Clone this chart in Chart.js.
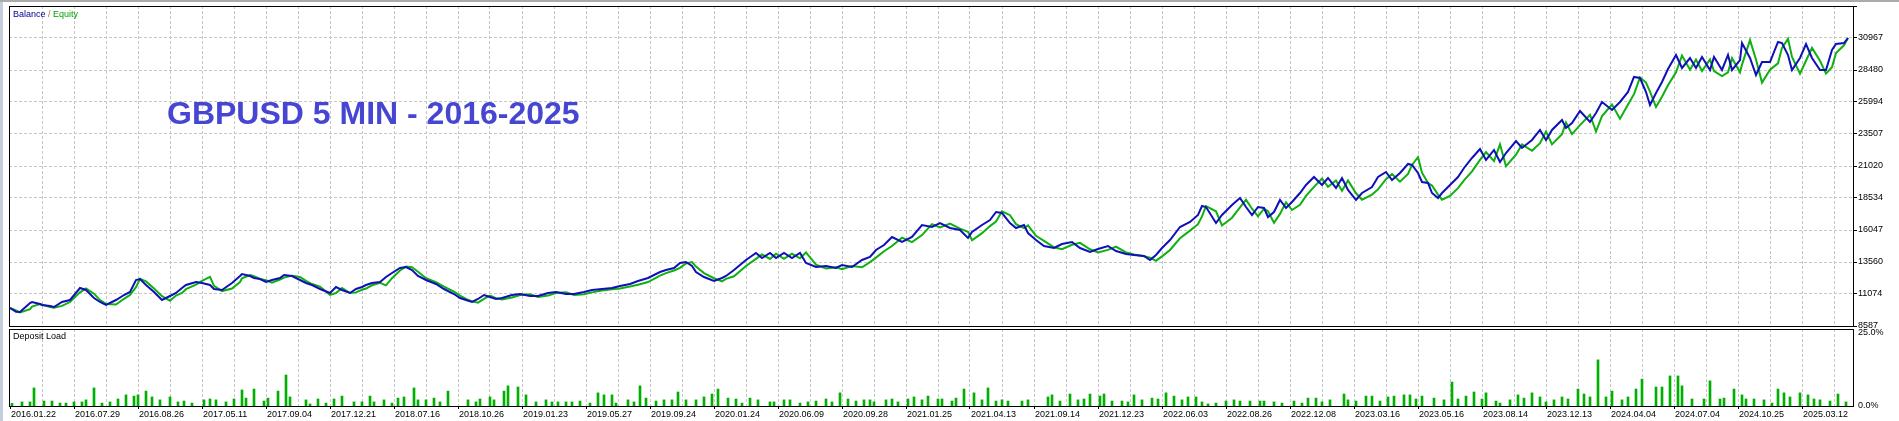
<!DOCTYPE html>
<html><head><meta charset="utf-8">
<script src="https://cdn.jsdelivr.net/npm/chart.js@4/dist/chart.umd.min.js"></script>
<style>
html,body{margin:0;padding:0;background:#fff;width:1899px;height:421px;overflow:hidden;position:relative}
#cMain{position:absolute;left:0;top:0}
#cLoad{position:absolute;left:0;top:328px;background:#fff}
#strip{position:absolute;left:0;top:0;width:3px;height:421px;background:#C3CFDD}
#topline{position:absolute;left:0;top:0;width:1899px;height:2px;background:#ABABAB}
</style></head><body>
<canvas id="cMain" width="1899" height="330"></canvas>
<canvas id="cLoad" width="1899" height="93"></canvas>
<div id="strip"></div><div id="topline"></div>
<script>
// ---------------- DATA ----------------
const dateLabels = ['2016.01.22','2016.07.29','2016.08.26','2017.05.11','2017.09.04','2017.12.21','2018.07.16','2018.10.26','2019.01.23','2019.05.27','2019.09.24','2020.01.24','2020.06.09','2020.09.28','2021.01.25','2021.04.13','2021.09.14','2021.12.23','2022.06.03','2022.08.26','2022.12.08','2023.03.16','2023.05.16','2023.08.14','2023.12.13','2024.04.04','2024.07.04','2024.10.25','2025.03.12'];
const yTickLabels = ['8587','11074','13560','16047','18534','21020','23507','25994','28480','30967'];
const loadTickLabels = ['0.0%','25.0%'];

// deal number of each balance/equity reading
const balDeals = [
0,3,5,10,11,15,16,20,22,26,
30,35,38,42,45,48,53,57,60,63,
65,68,72,76,80,83,86,88,93,96,
100,102,106,111,115,116,120,122,125,128,
131,135,137,141,145,148,151,155,160,163,
166,170,173,176,178,181,185,188,191,195,
198,201,204,208,213,217,222,225,228,231,
234,237,240,243,246,251,255,260,264,269,
273,278,282,287,291,296,301,305,310,314,
319,322,325,328,332,335,338,341,343,347,
352,356,358,362,368,373,376,380,383,387,
391,395,398,403,408,413,416,421,426,430,
433,437,441,446,451,456,461,465,470,475,
479,481,486,490,493,496,500,503,507,509,
513,517,522,526,531,535,540,544,549,553,
558,562,567,570,573,576,580,585,590,594,
596,598,603,606,611,615,618,621,624,627,
629,632,635,638,641,645,648,652,656,659,
663,666,669,673,676,681,684,688,691,695,
699,701,704,706,709,711,714,716,720,724,
727,731,735,738,742,745,748,753,756,761,
765,768,771,776,778,781,785,790,793,796,
801,805,809,812,815,818,820,823,826,829,
833,836,840,843,846,850,852,856,859,861,
865,866,870,873,876,880,884,886,889,891,
895,898,901,905,908,911,913,917,919];

const balance = [
9986,9700,9675,10374,10452,10296,10219,10141,10063,10452,
10607,11540,11385,10763,10452,10219,10607,10996,11229,12162,
12239,11773,11229,10607,10918,11151,11540,11773,12006,11928,
11773,11462,11385,11928,12472,12628,12472,12317,12239,12006,
12162,12317,12550,12472,12162,11928,11773,11462,11151,11618,
11385,11151,11462,11618,11773,11928,12006,12395,12705,13094,
13172,12938,12472,12162,11851,11462,11073,10763,10607,10452,
10685,10996,10840,10685,10763,10996,11073,10918,10918,11151,
11229,11073,11073,11229,11385,11462,11540,11695,11851,12084,
12317,12550,12783,12938,13094,13482,13560,13249,12783,12395,
12084,12317,12472,12938,13715,14259,13871,14259,13871,14259,
13871,14259,13482,13172,13249,13094,13327,13172,13715,13948,
14492,14881,15502,15114,15502,16434,16279,16590,16201,16046,
15424,15891,16434,16823,17445,17367,16590,16201,16434,15813,
15269,14803,14648,14958,15114,14648,14337,14570,14803,14414,
14181,14104,14026,13715,14104,14648,15269,16279,16668,17212,
17911,17834,16590,17212,17989,18533,17834,17212,17834,17756,
17056,17445,18378,17756,18222,18922,19544,20166,19544,20089,
19311,20089,19156,18378,18922,19389,20166,20555,19933,20477,
21177,21099,20477,19778,19700,18922,18533,18922,19544,20166,
20865,21643,22342,21487,22265,21332,22031,22964,22420,23042,
23819,23042,23819,24596,23974,24363,25296,24441,25140,25995,
25374,25995,26772,27938,27860,26772,25762,26695,27549,28558,
29646,28636,29412,28636,29490,28481,29490,28481,29646,28481,
29257,30578,29412,28092,29102,29102,30656,30578,29646,28481,
29412,30501,29412,28481,28481,30034,30501,30578,30967];

const equity = [
9990,9800,9640,9900,10100,10290,10250,10060,10000,10150,
10450,11200,11500,11100,10600,10300,10250,10700,11000,11600,
12250,12050,11500,10900,10550,10950,11150,11450,11800,12100,
12400,11700,11300,11500,12000,12300,12550,12450,12250,12150,
11950,12200,12350,12500,12400,12100,11850,11650,11000,11150,
11550,11150,11200,11400,11500,11750,11950,11750,12300,12900,
13200,13150,12800,12300,12000,11650,11250,10950,10700,10500,
10400,10700,10950,10750,10650,10800,11000,11050,10850,10950,
11150,11200,11000,11050,11200,11350,11450,11500,11650,11800,
12000,12250,12500,12700,12900,13100,13450,13550,13200,12700,
12300,12050,12250,12450,13250,13800,14150,13800,14200,13800,
14200,13850,14300,13350,13050,13150,13000,13250,13150,13550,
13900,14400,14800,15450,15100,15650,16500,16250,16550,16150,
15900,15250,15800,16350,16700,17500,17200,16500,16200,16400,
15600,15200,14700,14550,14900,15050,14550,14300,14500,14750,
14300,14150,14000,13900,13650,14000,14500,15400,16000,16500,
17100,17900,17500,16400,17000,17800,18400,17700,17100,17700,
17500,16600,17300,18200,17600,18000,18700,19400,20050,19400,
19900,19100,19900,18900,18400,18800,19200,20000,20400,19800,
20400,21100,21700,20500,19700,19500,18800,18400,18700,19300,
19900,20600,21500,22100,21400,22700,21000,21900,22700,22200,
22800,23700,22700,23500,24400,23500,24200,25000,23700,24900,
25800,24700,25800,26600,27900,27500,26800,25600,26400,27300,
28300,29600,28500,29300,28400,29300,28400,28000,28300,29400,
28300,28900,30800,29300,27500,28500,29000,30200,30900,29500,
28200,29200,30200,29200,28200,28700,29800,30400,30967];

// deposit load bars (deal number, percent)
const loadDeals = [
1,6,10,12,17,21,25,28,32,36,38,42,46,50,54,58,62,64,68,71,
75,80,84,87,91,97,100,103,108,112,116,118,122,127,129,134,138,140,148,150,
154,158,162,166,172,176,180,182,187,191,194,197,202,204,208,212,215,219,229,233,
235,240,242,
247,249,254,258,263,268,271,274,278,281,285,290,294,297,301,303,309,312,315,318,
323,327,331,334,338,343,347,351,354,359,363,366,370,374,380,382,387,390,395,399,
403,408,411,415,419,423,427,430,432,438,441,444,449,452,456,459,464,466,471,473,
477,482,486,489,493,496,499,506,509,519,521,525,530,534,537,540,545,547,551,556,
559,562,566,
571,574,578,582,586,589,593,596,599,603,608,612,615,620,625,627,632,636,642,646,
649,653,656,660,667,669,673,678,681,685,689,692,697,700,703,706,712,717,721,724,
728,732,736,738,743,745,750,754,757,761,765,768,772,776,779,784,787,790,794,798,
801,806,809,813,816,823,826,830,834,836,841,
847,850,855,857,862,866,868,872,877,881,884,887,890,895,899,902,905,910,914,918];

const loadPct = [
0.9,1.4,1.4,6.2,1.7,1.7,1.0,1.0,1.4,1.4,2.1,6.2,1.0,1.4,2.4,3.8,3.4,3.8,5.1,3.1,
2.1,3.1,1.4,1.7,1.0,2.1,2.4,2.1,1.4,2.4,5.5,2.7,5.8,1.7,2.7,5.1,10.6,3.1,2.1,0.7,
2.4,1.0,2.4,3.4,1.4,1.4,3.4,1.4,2.1,1.0,2.7,3.1,6.2,2.1,2.1,2.7,1.4,5.1,2.1,1.4,
2.4,3.1,2.1,
5.1,6.9,6.5,3.8,1.4,2.1,1.4,1.4,1.4,1.4,1.7,1.0,4.5,3.8,3.8,1.0,2.1,1.4,6.9,2.7,
1.7,2.1,2.1,4.8,2.1,2.1,3.1,4.1,5.8,2.7,2.4,1.0,2.7,2.1,1.4,1.4,2.1,2.1,1.0,1.4,
1.7,2.4,1.4,4.5,2.4,1.7,2.1,2.1,1.4,2.1,2.4,1.4,2.4,3.1,2.1,3.4,2.4,2.4,1.7,2.7,
5.8,4.5,2.1,6.2,1.7,2.1,1.7,1.7,2.1,3.1,3.8,1.7,4.1,2.1,2.4,4.1,3.4,4.1,1.7,1.7,
1.4,3.8,2.1,
2.7,2.4,4.5,3.4,2.1,3.1,3.1,1.4,0.7,1.0,1.7,2.1,1.7,1.7,1.7,1.7,1.4,1.0,1.7,1.0,
2.7,2.7,1.4,2.1,4.1,2.1,1.7,3.4,3.4,1.7,3.1,3.4,3.8,3.8,2.4,3.4,2.7,2.1,8.2,2.4,
3.4,4.8,2.4,4.5,1.7,1.0,2.1,3.8,2.7,4.5,3.1,1.4,2.1,3.1,2.4,5.8,4.1,3.1,15.8,3.1,
5.1,2.1,3.1,5.8,9.2,6.5,6.5,10.3,10.3,6.9,2.4,
2.4,8.6,2.4,2.7,5.8,3.8,2.4,2.4,2.1,1.0,5.8,4.5,3.1,4.5,3.8,2.4,2.1,1.7,4.1,1.4];

// ---------------- SETUP ----------------
function hasFont(name){
  const c=document.createElement('canvas').getContext('2d');
  const s='2016.01.22 Balance 30967';
  c.font='40px monospace'; const a=c.measureText(s).width;
  c.font='40px "'+name+'", monospace'; const b=c.measureText(s).width;
  return Math.abs(a-b)>0.5;
}
const NARROW = hasFont('Liberation Sans Narrow');
const AX = NARROW ? {family:'"Liberation Sans Narrow", "Liberation Sans", sans-serif', size:11}
                  : {family:'"Liberation Sans", Arial, sans-serif', size:9};
Chart.defaults.font.family = AX.family;
Chart.defaults.font.size = AX.size;
Chart.defaults.color = '#000';

const DEALS_PER_LABEL = 32;         // each date label every 32 deals
const GRID_STEP = DEALS_PER_LABEL/2; // dashed grid every half label
const X_MIN = -0.5, X_MAX = 921.5;
const gridTicks = [];
for (let v = 0; v <= X_MAX; v += GRID_STEP) gridTicks.push({value: v});

const yTickValues = yTickLabels.map(Number);
const yStep = (yTickValues[yTickValues.length-1]-yTickValues[0])/(yTickValues.length-1);
const Y_MIN = yTickValues[0];
const Y_MAX = yTickValues[yTickValues.length-1] + yStep;

const GRID_COL = '#C6C6C6';
const DASH = [3,2];
const noPad = s => { s.paddingTop = 0; s.paddingBottom = 0; s.paddingLeft = 0; s.paddingRight = 0; };

const framePlugin = {
  id: 'frame',
  afterDraw(chart){
    const {ctx, chartArea:a} = chart;
    ctx.save(); ctx.strokeStyle='#000'; ctx.lineWidth=1;
    ctx.strokeRect(Math.round(a.left)+0.5, Math.round(a.top)+0.5, Math.round(a.right-a.left), Math.round(a.bottom-a.top));
    ctx.restore();
  }
};

const mainText = {
  id: 'mainText',
  afterDraw(chart){
    const {ctx, chartArea:a} = chart;
    ctx.save();
    ctx.font = AX.size+'px '+AX.family;
    ctx.textBaseline='middle'; ctx.textAlign='left';
    let x = a.left + 4; const y = a.top + 9;
    const parts = [['Balance','#00008C'],[' / ','#9A7A2A'],['Equity','#00A000']];
    for (const [t,c] of parts){ ctx.fillStyle=c; ctx.fillText(t,x,y); x += ctx.measureText(t).width; }
    ctx.font = 'bold 32px "Liberation Sans", Arial, sans-serif';
    ctx.textBaseline='alphabetic';
    ctx.fillStyle = '#4646D2';
    ctx.fillText('GBPUSD 5 MIN - 2016-2025', a.left + 158, a.top + 118);
    ctx.restore();
  }
};

const loadText = {
  id: 'loadText',
  afterDraw(chart){
    const {ctx, chartArea:a} = chart;
    ctx.save();
    ctx.font = AX.size+'px '+AX.family;
    ctx.textBaseline='middle'; ctx.textAlign='left'; ctx.fillStyle='#000';
    ctx.fillText('Deposit Load', a.left + 4, a.top + 8);
    ctx.restore();
  }
};

const xGridColor = c => (c.tick && c.tick.value === 0) ? 'rgba(0,0,0,0)' : GRID_COL;

// ---------------- MAIN CHART ----------------
new Chart(document.getElementById('cMain'), {
  type: 'line',
  data: {
    datasets: [
      { label:'Balance', data: balDeals.map((d,i)=>({x:d, y:balance[i]})),
        borderColor:'#1010B8', borderWidth:2, pointRadius:0, tension:0, fill:false },
      { label:'Equity', data: balDeals.map((d,i)=>({x:d, y:equity[i]})),
        borderColor:'#10B010', borderWidth:2, pointRadius:0, tension:0, fill:false }
    ]
  },
  options: {
    responsive:false, animation:false, devicePixelRatio:1,
    layout:{ padding:{ left:9, top:6, right:0, bottom:4 } },
    plugins:{ legend:{display:false}, tooltip:{enabled:false} },
    scales:{
      x:{ type:'linear', min:X_MIN, max:X_MAX, offset:false,
          afterBuildTicks: s => { s.ticks = gridTicks.map(t=>({value:t.value})); },
          afterFit: s => { s.height = 0; noPad(s); },
          ticks:{ display:false },
          grid:{ color:xGridColor, drawTicks:false, lineWidth:1 },
          border:{ display:false, dash:DASH } },
      y:{ type:'linear', position:'right', min:Y_MIN, max:Y_MAX,
          afterBuildTicks: s => { s.ticks = yTickValues.concat([Y_MAX]).map(v=>({value:v})); },
          afterFit: s => { s.width = 46; noPad(s); },
          ticks:{ autoSkip:false, padding:1, color:'#000',
                  callback: v => { const i = yTickValues.indexOf(v); return i>=0 ? yTickLabels[i] : ''; } },
          grid:{ color:GRID_COL, drawTicks:true, tickLength:4, tickColor:'#000', tickBorderDash:[], tickWidth:1 },
          border:{ display:false, dash:DASH } }
    }
  },
  plugins:[framePlugin, mainText]
});

// ---------------- DEPOSIT LOAD CHART ----------------
const LOAD_MAX = 26.37;
new Chart(document.getElementById('cLoad'), {
  type: 'bar',
  data: {
    datasets: [
      { label:'Deposit Load', data: loadDeals.map((d,i)=>({x:d, y:loadPct[i]})),
        backgroundColor:'#00B000', borderWidth:0, barThickness:2 }
    ]
  },
  options: {
    responsive:false, animation:false, devicePixelRatio:1,
    layout:{ padding:{ left:9, top:1, right:0, bottom:0 } },
    plugins:{ legend:{display:false}, tooltip:{enabled:false} },
    scales:{
      x:{ type:'linear', min:X_MIN, max:X_MAX, offset:false,
          afterBuildTicks: s => { s.ticks = gridTicks.map(t=>({value:t.value})); },
          afterFit: s => { s.height = 15; noPad(s); },
          ticks:{ autoSkip:false, maxRotation:0, minRotation:0, align:'start', padding:0, labelOffset:1, color:'#000',
                  callback: v => (v % DEALS_PER_LABEL === 0 ? (dateLabels[v/DEALS_PER_LABEL] || '') : '') },
          grid:{ color:xGridColor, offset:false, drawTicks:true, tickLength:3,
                 tickColor: c => (c.tick && c.tick.value % DEALS_PER_LABEL === 0) ? '#000' : 'rgba(0,0,0,0)',
                 tickBorderDash:[], tickWidth:1 },
          border:{ display:false, dash:DASH } },
      y:{ type:'linear', position:'right', min:0, max:LOAD_MAX,
          afterBuildTicks: s => { s.ticks = loadTickLabels.map(t=>({value:parseFloat(t)})); },
          afterFit: s => { s.width = 46; noPad(s); },
          ticks:{ autoSkip:false, padding:5, color:'#000',
                  callback: v => { const i = loadTickLabels.findIndex(t=>parseFloat(t)===v); return i>=0 ? loadTickLabels[i] : ''; } },
          grid:{ display:false, drawTicks:false },
          border:{ display:false } }
    }
  },
  plugins:[framePlugin, loadText]
});
</script></body></html>
